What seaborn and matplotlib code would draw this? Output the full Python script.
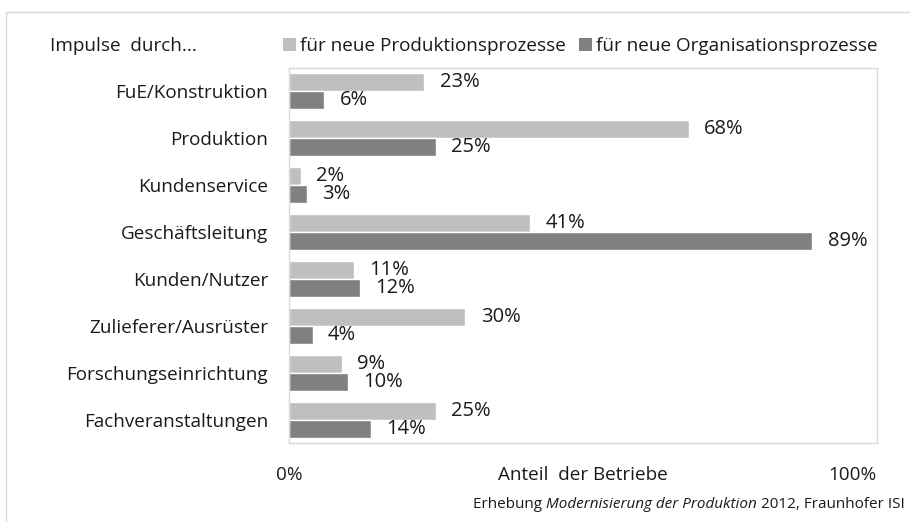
import matplotlib
matplotlib.use("Agg")
import matplotlib.pyplot as plt
import seaborn as sns
import pandas as pd
from matplotlib.patches import Patch, Rectangle
from matplotlib.transforms import blended_transform_factory

categories = ["FuE/Konstruktion", "Produktion", "Kundenservice", "Geschäftsleitung",
              "Kunden/Nutzer", "Zulieferer/Ausrüster", "Forschungseinrichtung",
              "Fachveranstaltungen"]
series_names = ["für neue Produktionsprozesse", "für neue Organisationsprozesse"]
produktion = [23, 68, 2, 41, 11, 30, 9, 25]
organisation = [6, 25, 3, 89, 12, 4, 10, 14]
colors = ["#BFBFBF", "#808080"]

df = pd.DataFrame({
    "Kategorie": categories * 2,
    "Wert": produktion + organisation,
    "Serie": [series_names[0]] * len(categories) + [series_names[1]] * len(categories),
})

sns.set_theme(style="white")
plt.rcParams["font.family"] = ["Open Sans", "DejaVu Sans"]
TXT = "#1a1a1a"
FS = 13.6

fig = plt.figure(figsize=(9.10, 5.22), dpi=100)
W, H = 910, 522
left, right, top, bottom = 289, 877, 68, 443
ax = fig.add_axes([left / W, 1 - bottom / H, (right - left) / W, (bottom - top) / H])

sns.barplot(data=df, x="Wert", y="Kategorie", hue="Serie", orient="h",
            palette=colors, width=0.77, ax=ax, legend=False, saturation=1,
            order=categories, hue_order=series_names)

ax.set_xlim(0, 100)
ax.set_ylim(len(categories) - 0.5, -0.5)
for c in ax.containers:
    ax.bar_label(c, labels=[f"{v:.0f}%" for v in c.datavalues], padding=11,
                 fontsize=14.5, color=TXT)

for s in ax.spines.values():
    s.set_visible(True)
    s.set_color("#D9D9D9")
    s.set_linewidth(1)

ax.set_xlabel("")
ax.set_ylabel("")
ax.set_xticks([])
ax.tick_params(axis="y", length=0, pad=15, labelsize=FS, labelcolor=TXT)

tr = blended_transform_factory(ax.transData, fig.transFigure)
yt = 1 - 475 / H
ax.text(0, yt, "0%", transform=tr, ha="center", va="center", fontsize=FS, color=TXT)
ax.text(100, yt, "100%", transform=tr, ha="right", va="center", fontsize=FS, color=TXT)
ax.text(50, yt, "Anteil  der Betriebe", transform=tr, ha="center", va="center",
        fontsize=FS, color=TXT)

fig.text(50 / W, 1 - 46 / H, "Impulse  durch...", ha="left", va="center",
         fontsize=FS, color=TXT)

handles = [Patch(facecolor=colors[i], edgecolor="none", label=series_names[i]) for i in range(2)]
leg = fig.legend(handles=handles, loc="center left", ncol=2,
                 bbox_to_anchor=(283 / W, 1 - 46 / H), frameon=False,
                 fontsize=FS, handlelength=0.7, handleheight=0.7,
                 handletextpad=0.2, columnspacing=0.7, labelcolor=TXT,
                 borderaxespad=0, borderpad=0)

# outer frame
fig.patches.append(Rectangle((6 / W, -0.1), 1.2, (1 - 12 / H) + 0.1,
                             transform=fig.transFigure, fill=False,
                             edgecolor="#D9D9D9", linewidth=1))

# footer with italic part, right aligned
fig.canvas.draw()
r = fig.canvas.get_renderer()
parts = [("Erhebung ", "normal"), ("Modernisierung der Produktion", "italic"),
         (" 2012, Fraunhofer ISI", "normal")]
xr = 905 / W
yf = 1 - 505 / H
for txt, st in reversed(parts):
    t = fig.text(xr, yf, txt, ha="right", va="center", fontsize=11,
                 style=st, color=TXT)
    bb = t.get_window_extent(renderer=r)
    xr = bb.x0 / W

fig.savefig("out.png", dpi=100)
